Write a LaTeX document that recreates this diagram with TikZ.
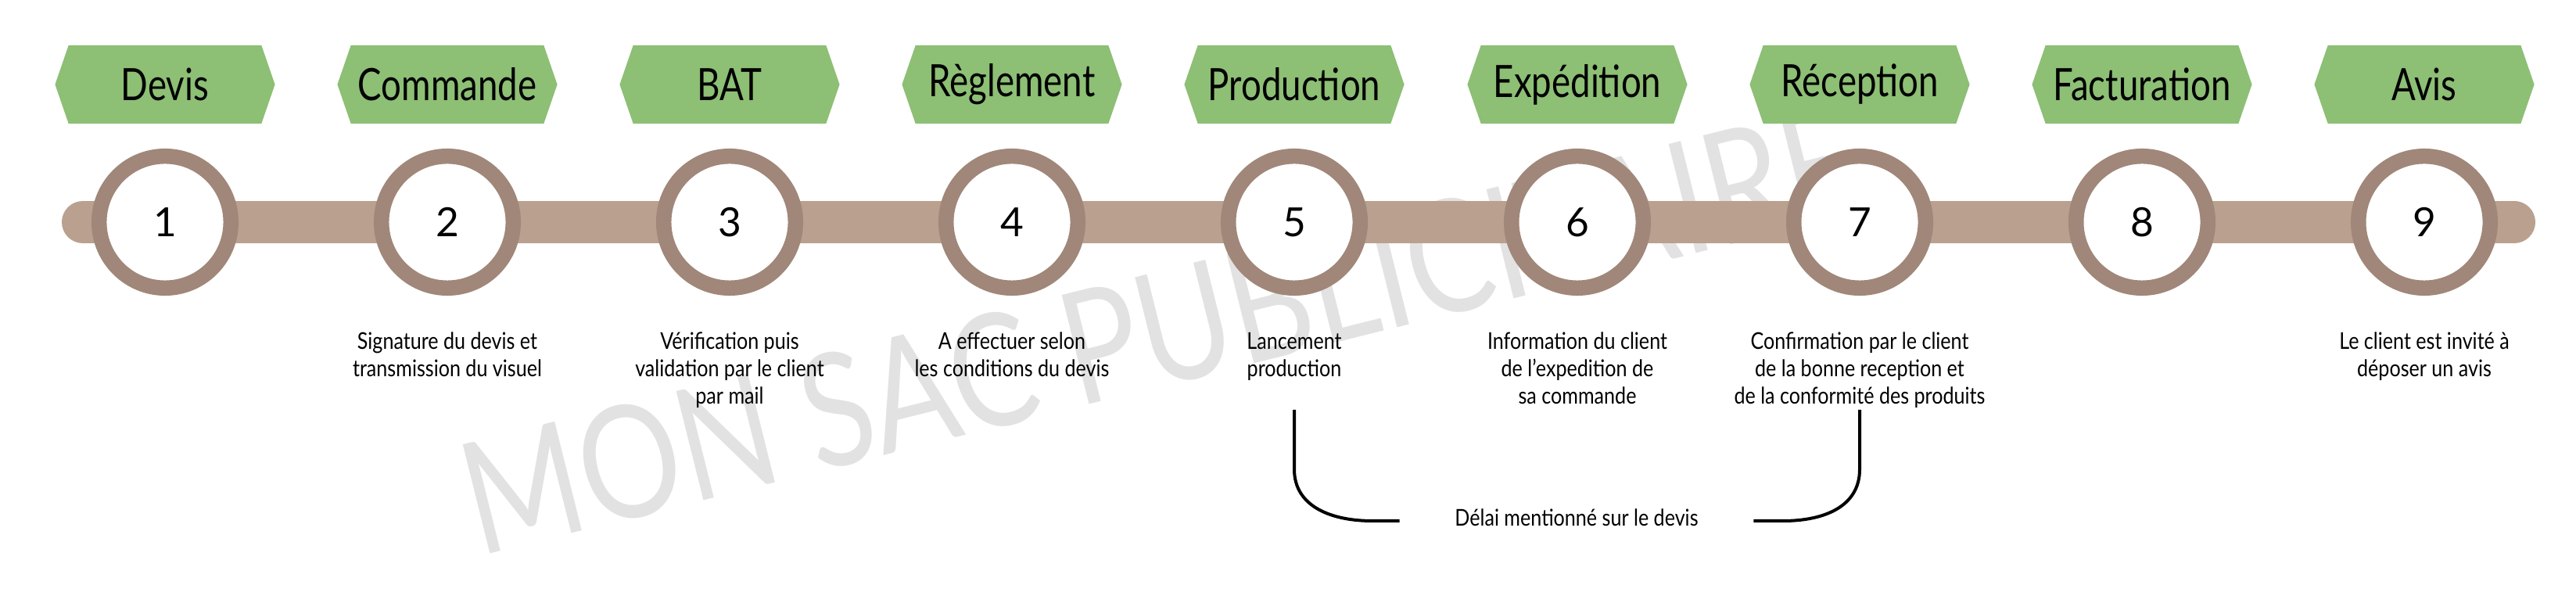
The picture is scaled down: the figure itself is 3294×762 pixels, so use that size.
\documentclass[tikz,border=0pt]{standalone}
\usepackage{fontspec}
\setmainfont{Lato}
\newfontfamily\titlefont[FakeStretch=0.8]{Lato}
\newfontfamily\descfont[FakeStretch=0.85]{Lato}
\newfontfamily\markfont[FakeStretch=0.81]{Lato}
\usetikzlibrary{shapes.symbols,positioning}
\definecolor{bannergreen}{RGB}{141,191,117}
\definecolor{ringbrown}{RGB}{160,135,121}
\definecolor{barbrown}{RGB}{186,160,142}
\definecolor{markgray}{RGB}{226,226,226}
\tikzset{
  banner/.style={signal,signal to=east and west,signal pointer angle=142,fill=bannergreen,
    minimum width=2.81cm,minimum height=1cm,inner sep=0pt,font=\titlefont\fontsize{16.2}{18}\selectfont},
  stepring/.style={circle,draw=ringbrown,line width=0.195cm,fill=white,minimum size=1.685cm,
    inner sep=0pt,font=\fontsize{14.6}{16}\selectfont},
  desc/.style={align=center,anchor=base,inner sep=0pt,font=\descfont\fontsize{8.4}{9.96}\selectfont},
  timeline/.style={line width=0.54cm,line cap=round,draw=barbrown},
  delay/.style={line width=0.04cm,draw=black},
  watermark/.style={anchor=base west,rotate=14,inner sep=0pt,text=markgray,font=\markfont\fontsize{57}{60}\selectfont}
}
\begin{document}
\begin{tikzpicture}[x=0.01cm,y=0.01cm]
  \useasboundingbox (0,0) rectangle (3294,-762);
  \node[watermark] (mark) at (612,-712) {MON SAC PUBLICITAIRE};
  \coordinate (barl) at (106,-284);
  \coordinate (barr) at (3215,-284);
  \draw[timeline] (barl) -- (barr);
  \node[stepring] (s1) at (211,-284) {1};
  \node[stepring] (s2) at (572,-284) {2};
  \node[stepring] (s3) at (933,-284) {3};
  \node[stepring] (s4) at (1294,-284) {4};
  \node[stepring] (s5) at (1655,-284) {5};
  \node[stepring] (s6) at (2017,-284) {6};
  \node[stepring] (s7) at (2378,-284) {7};
  \node[stepring] (s8) at (2739,-284) {8};
  \node[stepring] (s9) at (3100,-284) {9};
  \node[banner] (devis) at (211,-108) {Devis};
  \node[banner] (commande) at (572,-108) {Commande};
  \node[banner] (bat) at (933,-108) {BAT};
  \node[banner] (reglement) at (1294,-108) {Règlement};
  \node[banner] (production) at (1655,-108) {Production};
  \node[banner] (expedition) at (2017,-108) {Expédition};
  \node[banner] (reception) at (2378,-108) {Réception};
  \node[banner] (facturation) at (2739,-108) {Facturation};
  \node[banner] (avis) at (3100,-108) {Avis};
  \node[desc] (d2) at (572,-482) {Signature du devis et\\transmission du visuel};
  \node[desc] (d3) at (933,-517) {Vérification puis\\validation par le client\\par mail};
  \node[desc] (d4) at (1294,-482) {A effectuer selon\\les conditions du devis};
  \node[desc] (d5) at (1655,-482) {Lancement\\production};
  \node[desc] (d6) at (2017,-517) {Information du client\\de l’expedition de\\sa commande};
  \node[desc] (d7) at (2378,-517) {Confirmation par le client\\de la bonne reception et\\de la conformité des produits};
  \node[desc] (d9) at (3100,-482) {Le client est invité à\\déposer un avis};
  \node[desc,inner xsep=0.7cm] (delai) at (2016,-673) {Délai mentionné sur le devis};
  \coordinate (lt) at (1655,-524);
  \coordinate (rt) at (2378,-524);
  \draw[delay] (lt) -- ++(0,-76) .. controls +(0,-48) and +(-52,0) .. (1755,-666) -- (delai.west |- 0,-666);
  \draw[delay] (rt) -- ++(0,-76) .. controls +(0,-48) and +(52,0) .. (2280,-666) -- (delai.east |- 0,-666);
\end{tikzpicture}
\end{document}
